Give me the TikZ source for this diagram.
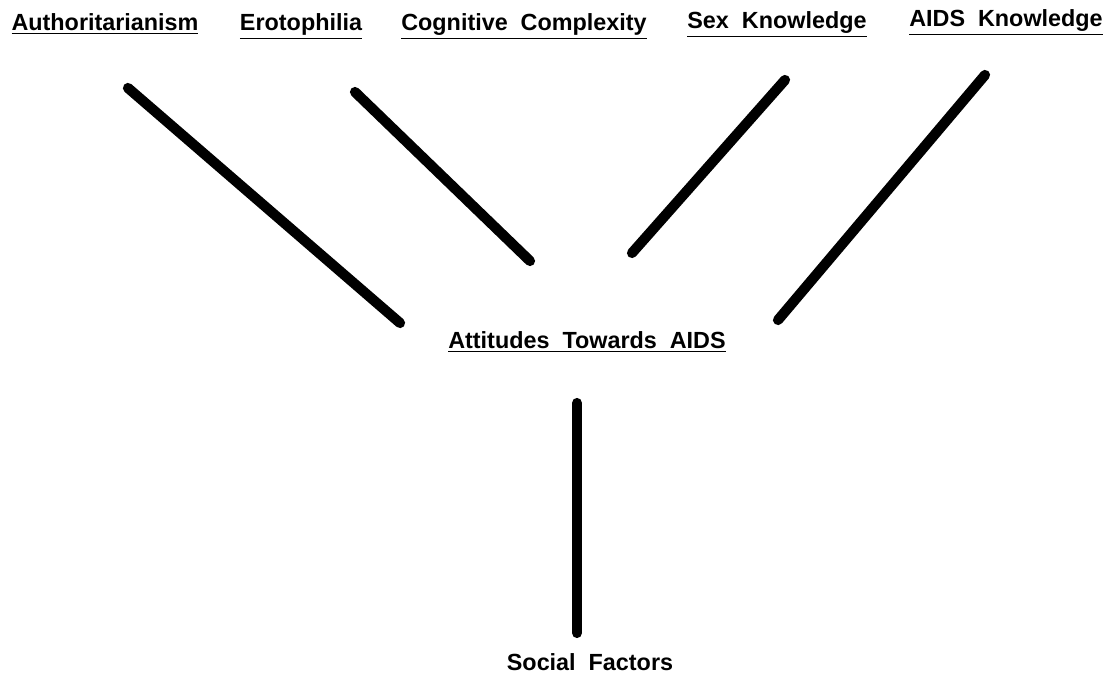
\documentclass[tikz,border=0pt]{standalone}
\usepackage{fontspec}
\setmainfont{Liberation Sans}
\begin{document}
\begin{tikzpicture}[x=0.02cm,y=-0.02cm,
  lbl/.style={font=\bfseries\fontsize{13.3}{15}\selectfont, inner sep=0pt, anchor=base},
  link/.style={line width=5.8pt, line cap=round}]
\useasboundingbox (0,0) rectangle (1113,678);
\node[lbl] (auth) at (105,31) {\underline{Authoritarianism}};
\node[lbl] (ero) at (301,31) {\underline{Erotophilia}};
\node[lbl] (cog) at (524,31) {\underline{Cognitive\ \ Complexity}};
\node[lbl] (sex) at (777,29) {\underline{Sex\ \ Knowledge}};
\node[lbl] (aids) at (1006,27) {\underline{AIDS\ \ Knowledge}};
\node[lbl] (att) at (587,349) {\underline{Attitudes\ \ Towards\ \ AIDS}};
\node[lbl] (soc) at (590,671) {Social\ \ Factors};
\coordinate (a1) at (128,88);  \coordinate (a2) at (400,323);
\coordinate (e1) at (355,92);  \coordinate (e2) at (530,261);
\coordinate (s1) at (785,80);  \coordinate (s2) at (632,253);
\coordinate (k1) at (985,75);  \coordinate (k2) at (778,320);
\coordinate (f1) at (577,403); \coordinate (f2) at (577,633);
\draw[link] (a1) -- (a2);
\draw[link] (e1) -- (e2);
\draw[link] (s1) -- (s2);
\draw[link] (k1) -- (k2);
\draw[link] (f1) -- (f2);
\end{tikzpicture}
\end{document}
